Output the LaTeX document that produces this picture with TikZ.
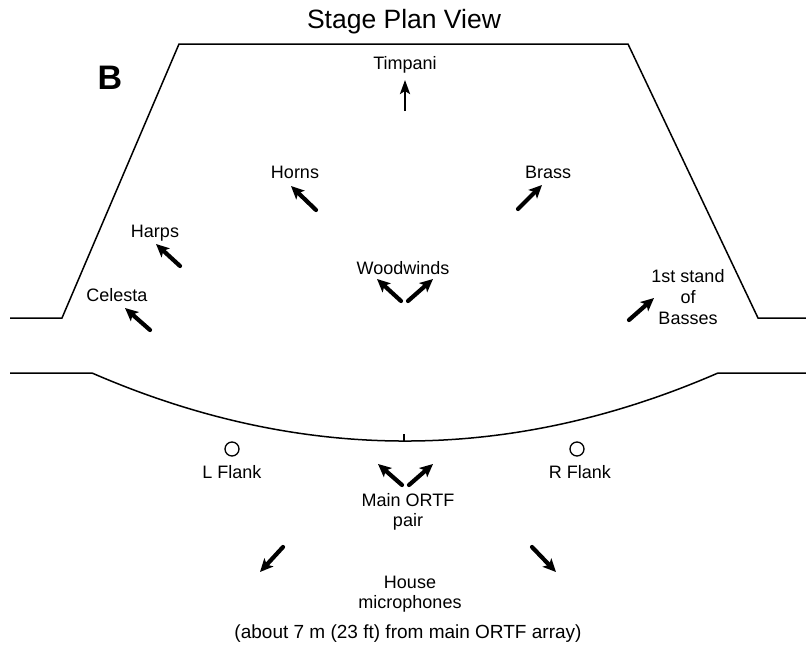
\documentclass[tikz,border=0pt]{standalone}
\usepackage{fontspec}
\setmainfont{Liberation Sans}
\usetikzlibrary{arrows.meta}
\begin{document}
\begin{tikzpicture}[x=1pt,y=-1pt,
  wall/.style={line width=1.5pt, line join=miter},
  lbl/.style={inner sep=0pt, align=center, font=\fontsize{18}{20}\selectfont},
  mic/.style={line width=4.2pt, line cap=round, -{Stealth[length=13pt,width=12pt,inset=3pt]}},
  thinmic/.style={line width=2.6pt, -{Stealth[length=14pt,width=10pt,inset=3pt]}},
  flank/.style={circle, draw, line width=1.3pt, minimum size=14pt, inner sep=0pt}]
\useasboundingbox (0,0) rectangle (806,651);
% title and letter
\node[lbl, font=\fontsize{26.5}{28}\selectfont] (title) at (404,22) {Stage Plan View};
\node[inner sep=0pt, font=\fontsize{34}{36}\selectfont\bfseries] (B) at (110,78) {B};
% stage outline
\draw[wall] (10,318) -- (62,318) -- (179,44) -- (628,44) -- (758,318) -- (806,318);
% front edge with curved apron
\draw[wall] (10,373) -- (92,373) .. controls (300.7,463.7) and (509.3,463.7) .. (718,373) -- (806,373);
\coordinate (tickb) at (404,441);
\coordinate (tickt) at (404,434);
\draw[line width=1.2pt] (tickb) -- (tickt);
% Timpani
\node[lbl] (timp) at (405,65) {Timpani};
\coordinate (timpA) at (405,111);
\coordinate (timpB) at (405,80);
\draw[thinmic] (timpA) -- (timpB);
% Horns
\node[lbl] (horns) at (295,172) {Horns};
\coordinate (hornsA) at (316,210);
\coordinate (hornsB) at (291,186);
\draw[mic] (hornsA) -- (hornsB);
% Brass
\node[lbl] (brass) at (548,172) {Brass};
\coordinate (brassA) at (518,209);
\coordinate (brassB) at (542,185);
\draw[mic] (brassA) -- (brassB);
% Harps
\node[lbl] (harps) at (155,233) {Harps};
\coordinate (harpsA) at (180,266);
\coordinate (harpsB) at (156,244);
\draw[mic] (harpsA) -- (harpsB);
% Celesta
\node[lbl] (celesta) at (117,295) {Celesta};
\coordinate (celA) at (150,330);
\coordinate (celB) at (125,308);
\draw[mic] (celA) -- (celB);
% Woodwinds
\node[lbl] (wood) at (403,268) {Woodwinds};
\coordinate (woodLA) at (401,301);
\coordinate (woodLB) at (377,279);
\coordinate (woodRA) at (408,301);
\coordinate (woodRB) at (433,279);
\draw[mic] (woodLA) -- (woodLB);
\draw[mic] (woodRA) -- (woodRB);
% Basses
\node[lbl, font=\fontsize{18}{21}\selectfont] (basses) at (688,297) {1st stand\\of\\Basses};
\coordinate (basA) at (629,320);
\coordinate (basB) at (654,298);
\draw[mic] (basA) -- (basB);
% Flanks
\node[flank] (lflank) at (232,449) {};
\node[lbl] (lflanktxt) at (232,472) {L Flank};
\node[flank] (rflank) at (577,449) {};
\node[lbl] (rflanktxt) at (580,472) {R Flank};
% Main ORTF pair
\coordinate (ortfLA) at (402,485);
\coordinate (ortfLB) at (378,464);
\coordinate (ortfRA) at (409,485);
\coordinate (ortfRB) at (433,464);
\draw[mic] (ortfLA) -- (ortfLB);
\draw[mic] (ortfRA) -- (ortfRB);
\node[lbl, font=\fontsize{18}{19.5}\selectfont] (ortf) at (408,512) {Main ORTF\\pair};
% House microphones
\coordinate (houseLA) at (283,547);
\coordinate (houseLB) at (260,572);
\coordinate (houseRA) at (532,547);
\coordinate (houseRB) at (556,572);
\draw[mic] (houseLA) -- (houseLB);
\draw[mic] (houseRA) -- (houseRB);
\node[lbl, font=\fontsize{18}{19.5}\selectfont] (house) at (410,594) {House\\microphones};
\node[lbl, font=\fontsize{19}{20}\selectfont] (note) at (408,634) {(about 7 m (23 ft) from main ORTF array)};
\end{tikzpicture}
\end{document}
